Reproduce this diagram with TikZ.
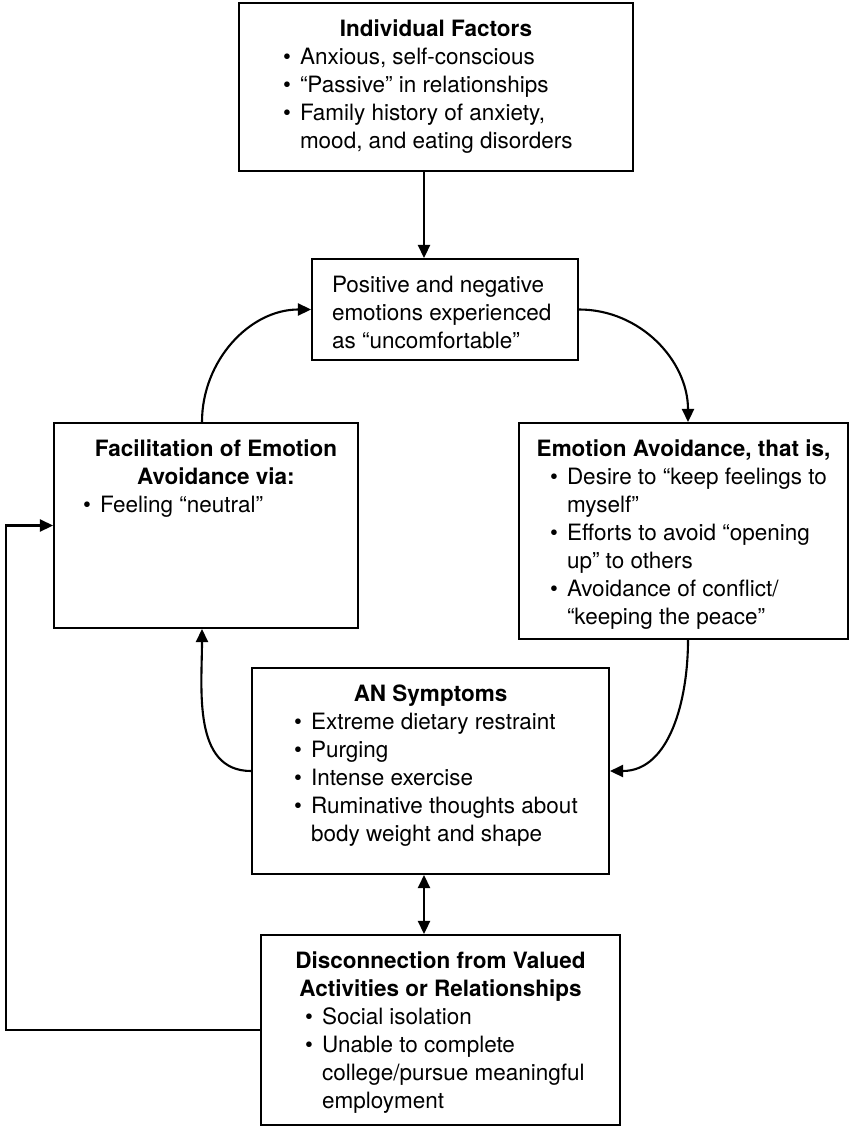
\documentclass[tikz,border=0pt]{standalone}
\usepackage{fontspec}
\setmainfont{TeX Gyre Heros}
\usetikzlibrary{arrows.meta}

\newcommand{\boxtext}[3]{\parbox[t][#2][t]{#1}{\vspace*{0.34cm}#3}}
\newcommand{\boxhead}[1]{{\centering\bfseries #1\par}}
\newenvironment{bullets}[1]{\begin{list}{\textbullet}{%
    \setlength{\leftmargin}{#1}\setlength{\rightmargin}{0pt}%
    \setlength{\labelwidth}{0.5cm}\setlength{\labelsep}{0.18cm}%
    \setlength{\itemsep}{0pt}\setlength{\topsep}{0pt}%
    \setlength{\partopsep}{0pt}\setlength{\parsep}{0pt}}\raggedright}{\end{list}}

\begin{document}
\begin{tikzpicture}[
    box/.style={draw, line width=1.2pt, inner sep=0pt, font=\fontsize{12.8}{15.9}\selectfont},
    arr/.style={line width=1.2pt, -{Triangle[length=7.5pt,width=7pt]}}]
    \useasboundingbox (0,0) rectangle (17,-22.52);
    %% Boxes
    \node[box] (ind) at (8.72,-1.74) {\boxtext{7.88cm}{3.36cm}{\boxhead{Individual Factors}
        \begin{bullets}{1.22cm}
        \item Anxious, self-conscious
        \item “Passive” in relationships
        \item Family history of anxiety,\\ mood, and eating disorders
        \end{bullets}}};
    \node[box] (pos) at (8.90,-6.19) {\boxtext{5.32cm}{2.02cm}{\leftskip=0.4cm
        Positive and negative\\ emotions experienced\\ as “uncomfortable”\par}};
    \node[box] (fac) at (4.12,-10.51) {\boxtext{6.08cm}{4.10cm}{\boxhead{\hspace*{0.4cm}Facilitation of Emotion\\ \hspace*{0.4cm}Avoidance via:}
        \begin{bullets}{0.92cm}
        \item Feeling “neutral”
        \end{bullets}}};
    \node[box] (emo) at (13.67,-10.62) {\boxtext{6.58cm}{4.32cm}{\boxhead{Emotion Avoidance, that is,}
        \begin{bullets}{0.96cm}
        \item Desire to “keep feelings to\\ myself”
        \item Efforts to avoid “opening\\ up” to others
        \item Avoidance of conflict/\\ “keeping the peace”
        \end{bullets}}};
    \node[box] (an) at (8.61,-15.42) {\boxtext{7.14cm}{4.12cm}{\boxhead{AN Symptoms}
        \begin{bullets}{1.18cm}
        \item Extreme dietary restraint
        \item Purging
        \item Intense exercise
        \item Ruminative thoughts about\\ body weight and shape
        \end{bullets}}};
    \node[box] (dis) at (8.81,-20.60) {\boxtext{7.18cm}{3.80cm}{\boxhead{Disconnection from Valued\\ Activities or Relationships}
        \begin{bullets}{1.22cm}
        \item Social isolation
        \item Unable to complete\\ college/pursue meaningful\\ employment
        \end{bullets}}};
    %% Arrows
    \draw[arr] ([xshift=-0.24cm]ind.south) -- ([xshift=-0.24cm]ind.south |- pos.north);
    \draw[arr] ([xshift=-0.08cm]fac.north) to[out=90,in=180] (pos.west);
    \draw[arr] (pos.east) to[out=0,in=90] ([xshift=0.09cm]emo.north);
    \draw[arr] ([xshift=0.09cm]emo.south) to[out=-90,in=0] (an.east);
    \draw[arr] (an.west) to[out=180,in=-90] ([xshift=-0.08cm]fac.south);
    \draw[arr, {Triangle[length=7.5pt,width=7pt]}-{Triangle[length=7.5pt,width=7pt]}]
        ([xshift=-0.13cm]an.south) -- ([xshift=-0.13cm]an.south |- dis.north);
    %% Feedback loop
    \draw[arr] (dis.west) -- ++(-5.08,0) |- (fac.west);
\end{tikzpicture}
\end{document}
